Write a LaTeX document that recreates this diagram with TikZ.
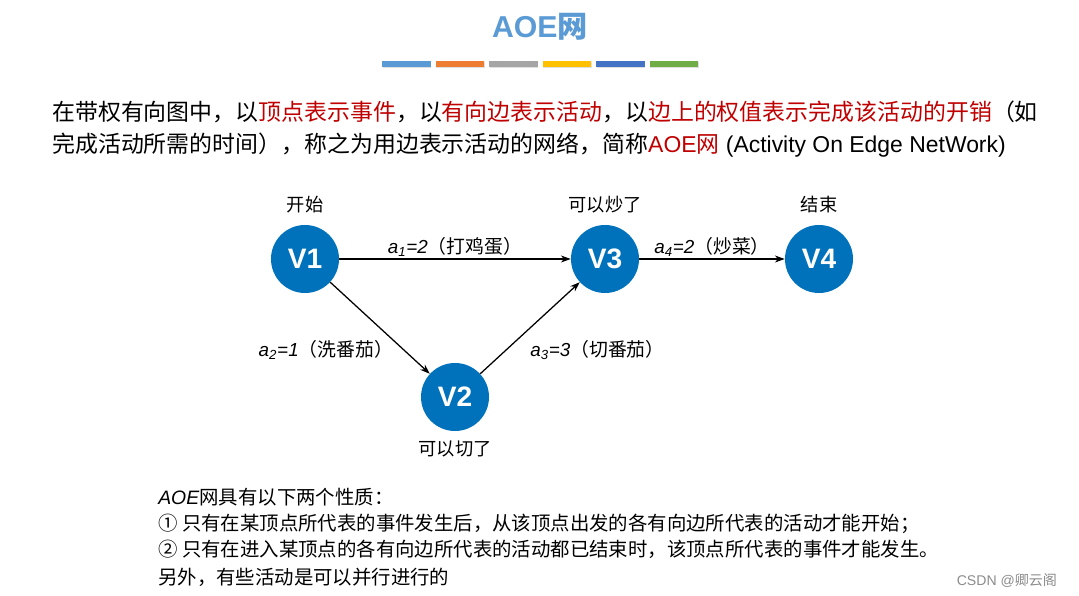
\documentclass[tikz,border=0pt]{standalone}
\usepackage{fontspec}
\setmainfont{Liberation Sans}
\newfontfamily\cjk{Noto Sans CJK SC}
\usetikzlibrary{positioning,arrows.meta,shadows}

\definecolor{nodeblue}{RGB}{0,114,187}
\definecolor{titleblue}{RGB}{91,155,213}
\definecolor{keyred}{RGB}{192,0,0}
\definecolor{barblue}{RGB}{91,155,213}
\definecolor{barorange}{RGB}{237,125,49}
\definecolor{bargrey}{RGB}{165,165,165}
\definecolor{baryellow}{RGB}{255,192,0}
\definecolor{bardarkblue}{RGB}{68,114,196}
\definecolor{bargreen}{RGB}{112,173,71}
\definecolor{markgrey}{RGB}{140,140,140}

\newcommand{\red}[1]{\textcolor{keyred}{#1}}

\begin{document}
\begin{tikzpicture}[
  x=0.025cm, y=-0.025cm,
  event/.style={circle, fill=nodeblue, minimum size=1.7cm, inner sep=0pt, text=white,
    font=\fontsize{20}{24}\selectfont\bfseries},
  tag/.style={font=\cjk\fontsize{13}{16}\selectfont},
  weight/.style={font=\fontsize{13.4}{16}\selectfont},
  para/.style={anchor=base west, inner sep=0pt, font=\fontsize{16.3}{19}\selectfont},
  note/.style={anchor=base west, inner sep=0pt, font=\fontsize{13.8}{16}\selectfont},
  arrow/.style={-{Stealth[length=7pt,width=5pt]}, line width=0.9pt}
]
\useasboundingbox (0,0) rectangle (1079,596);
\fill[white] (0,0) rectangle (1079,596);

% title and colour bars
\node[font=\fontsize{21.5}{26}\selectfont\bfseries, text=titleblue] (title) at (540,27) {AOE{\cjk 网}};
\foreach \c [count=\i from 0] in {barblue,barorange,bargrey,baryellow,bardarkblue,bargreen}
  \fill[\c, drop shadow={opacity=0.25, shadow xshift=0.6pt, shadow yshift=-0.8pt}]
    (382+\i*53.5,61) rectangle ++(48.5,6);

% definition
\node[para] (line1) at (52,121) {\cjk 在带权有向图中，以\red{顶点表示事件}，以\red{有向边表示活动}，以\red{边上的权值表示完成该活动的开销}（如};
\node[para] (line2) at (52,153) {{\cjk 完成活动所需的时间），称之为用边表示活动的网络，简称}\red{AOE{\cjk 网}} (Activity On Edge NetWork)};

% events
\node[event] (v1) at (305,259) {V1};
\node[event] (v2) at (455,397) {V2};
\node[event] (v3) at (605,259) {V3};
\node[event] (v4) at (819,259) {V4};

\node[tag, above=5pt of v1] (t1) {开始};
\node[tag, below=3pt of v2] (t2) {可以切了};
\node[tag, above=5pt of v3] (t3) {可以炒了};
\node[tag, above=5pt of v4] (t4) {结束};

% activities
\draw[arrow] (v1) -- node[weight, above, inner sep=1pt] {\textit{a\textsubscript{1}=2}{\cjk （打鸡蛋）}} (v3);
\draw[arrow] (v1) -- node[weight, pos=0.74, left=4pt] {\textit{a\textsubscript{2}=1}{\cjk （洗番茄）}} (v2);
\draw[arrow] (v2) -- node[weight, pos=0.26, right=13.5pt] {\textit{a\textsubscript{3}=3}{\cjk （切番茄）}} (v3);
\draw[arrow] (v3) -- node[weight, above, inner sep=1pt] {\textit{a\textsubscript{4}=2}{\cjk （炒菜）}} (v4);

% properties
\node[note] (p0) at (158,504) {\textit{AOE}{\cjk 网具有以下两个性质：}};
\node[note] (p1) at (158,530) {\cjk ① 只有在某顶点所代表的事件发生后，从该顶点出发的各有向边所代表的活动才能开始；};
\node[note] (p2) at (158,556) {\cjk ② 只有在进入某顶点的各有向边所代表的活动都已结束时，该顶点所代表的事件才能发生。};
\node[note] (p3) at (158,584) {\cjk 另外，有些活动是可以并行进行的};

\node[anchor=east, text=markgrey, font=\fontsize{10}{12}\selectfont] (mark) at (1062,581) {CSDN @{\cjk 卿云阁}};
\end{tikzpicture}
\end{document}
